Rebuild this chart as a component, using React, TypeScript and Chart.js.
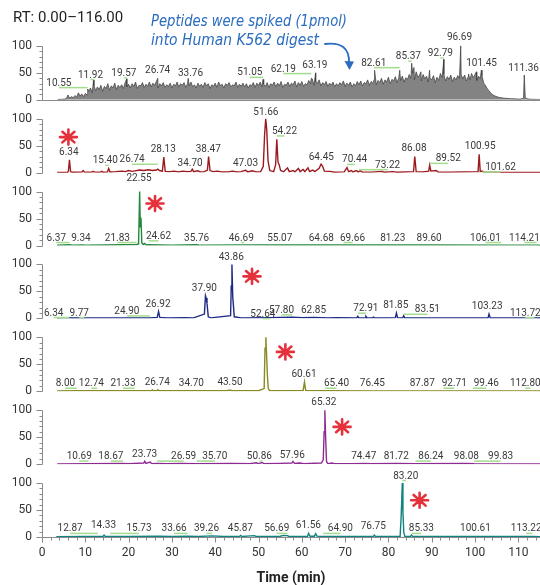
import React, { useEffect, useRef } from 'react';
import { Chart, registerables } from 'chart.js';

Chart.register(...registerables);

// ---------- axes / text ----------
const xTickValues = [0, 10, 20, 30, 40, 50, 60, 70, 80, 90, 100, 110];
const yTickValues = [0, 50, 100];
const timeMin = 0;
const timeMax = 115;
const panelMax = 135;
const rtTitle = 'RT: 0.00–116.00';
const noteLines = ['Peptides were spiked (1pmol)', 'into Human K562 digest'];
const xTitle = 'Time (min)';

// ---------- panel 1: TIC (base grid + labelled spikes) ----------
const ticStart = 3.6;
const ticStep = 0.4;
const ticValues = [
  0.5, 0.8, 1, 1.2, 1.5, 2,
  9, 3, 6, 4, 8, 5,
  13, 7, 11, 6, 12, 9,
  16, 22, 13, 26, 17, 24,
  19, 27, 16, 25, 21, 30,
  18, 26, 22, 31, 19, 27,
  23, 28, 21, 32, 24, 29,
  22, 30, 25, 33, 21, 27,
  26, 32, 23, 29, 25, 33,
  24, 31, 27, 34, 22, 30,
  26, 32, 23, 28, 25, 31,
  22, 29, 26, 33, 24, 30,
  27, 32, 23, 30, 26, 33,
  24, 28, 22, 31, 25, 29,
  23, 32, 26, 30, 21, 28,
  25, 31, 23, 33, 26, 29,
  22, 30, 27, 32, 24, 28,
  26, 33, 23, 29, 25, 31,
  24, 30, 22, 28, 26, 32,
  23, 31, 27, 33, 24, 29,
  25, 32, 23, 30, 27, 33,
  24, 31, 26, 34, 23, 29,
  27, 33, 25, 31, 28, 35,
  24, 32, 27, 34, 25, 30,
  28, 36, 30, 39, 27, 33,
  31, 37, 26, 32, 28, 34,
  25, 31, 27, 33, 24, 30,
  26, 32, 28, 35, 25, 31,
  27, 33, 24, 30, 26, 34,
  28, 35, 26, 32, 30, 37,
  27, 34, 31, 39, 28, 36,
  32, 40, 29, 37, 33, 42,
  30, 38, 35, 43, 32, 41,
  36, 44, 33, 41, 38, 47,
  40, 49, 37, 52, 42, 46,
  35, 47, 39, 44, 33, 41,
  37, 45, 32, 42, 36, 49,
  41, 47, 35, 43, 38, 46,
  34, 42, 37, 45, 40, 47,
  39, 46, 35, 43, 37, 49,
  41, 47, 36, 44, 39, 45,
  31, 27, 21, 17, 13, 10,
  8, 6.5, 5.5, 4.5, 4, 3.5,
  3, 3, 2.5, 2.5, 2, 2,
  2, 1.8, 1.5, 1.5, 2, 3,
  4, 2, 1.5, 1.2, 1, 1,
  1, 0.8, 0.8, 0.8,
];
const ticSpikes = [
  [10.55, 20], [11.92, 37], [19.57, 39], [26.74, 40], [33.76, 40], [51.05, 38],
  [62.19, 40], [63.19, 50], [76.8, 55], [82.61, 55], [85.37, 68], [85.9, 60],
  [87.5, 52], [89.5, 55], [92.79, 75], [96.69, 100], [98.5, 48], [100.3, 52],
  [101.45, 55], [111.36, 46],
];

// ---------- panels 2-7: extracted ion chromatograms [time, intensity] ----------
const redTrace = [
  [3.5, 0.5], [5.9, 0.6], [6.1, 3], [6.34, 24], [6.6, 2], [6.9, 0.8], [9.2, 1], [9.5, 4], [9.8, 1],
  [11.5, 1], [11.8, 2.5], [12.1, 1], [13.5, 1], [13.8, 2.5], [14.1, 1], [15.1, 1.5], [15.4, 8],
  [15.7, 1.5], [17, 2], [18.5, 3], [19.2, 2], [20, 4], [20.8, 2.5], [21.5, 3.5], [22.5, 5],
  [23.5, 4], [24.5, 5.5], [25.5, 4], [26.4, 5], [26.74, 6.5], [27.1, 4], [27.8, 3], [28.13, 29],
  [28.45, 2.5], [29.5, 2], [30.5, 3], [31.5, 1.5], [32.5, 3], [33.5, 2], [34.4, 2.5], [34.7, 6.5],
  [35, 2], [36, 3.5], [36.5, 1.5], [37.5, 2], [38.2, 5], [38.47, 30], [38.8, 4], [39.5, 2],
  [40.5, 3], [41.5, 1.5], [43, 1.5], [44, 3], [45, 1.5], [46, 2], [46.5, 3.5], [47.03, 4.6],
  [47.5, 1.5], [48.5, 3.5], [49.5, 1.5], [50.5, 2], [51.1, 12], [51.4, 70], [51.66, 100],
  [51.9, 80], [52.2, 22], [52.6, 4], [53.5, 2], [53.95, 15], [54.22, 62], [54.5, 20], [54.8, 14],
  [55.1, 4], [55.8, 2], [56.7, 9], [57.1, 2], [58, 4], [58.4, 1.5], [59.2, 8], [59.6, 2],
  [60.3, 6], [60.7, 2], [61.4, 9], [61.8, 2], [62.5, 5], [63, 2], [64, 8], [64.45, 16],
  [64.8, 12], [65.2, 3], [66.5, 2.5], [67.5, 1], [69.8, 1.5], [70.44, 9.6], [70.8, 2], [71.4, 4],
  [71.8, 1.5], [72.6, 4], [73, 1.5], [73.5, 3.5], [74, 1], [76, 1], [78.5, 2.5], [79, 1],
  [81, 2], [82, 1], [85.8, 2], [86.08, 30], [86.4, 2], [88, 1.5], [89.3, 3], [89.52, 14],
  [89.8, 3], [91, 4], [91.5, 1], [94, 1], [100.7, 2], [100.95, 34], [101.2, 2], [101.62, 3],
  [102.2, 1], [104, 1], [106, 0.5], [116, 0.5],
];
const greenTrace = [
  [3.5, 0.5], [6.37, 1.5], [7, 0.8], [9.34, 1.2], [10, 0.8], [15, 1], [21.83, 2], [22.3, 3],
  [22.55, 100], [22.7, 35], [22.85, 52], [23.05, 5], [23.4, 2], [23.7, 4], [24.1, 1], [24.62, 1.5],
  [30, 0.8], [35.76, 1.5], [36.3, 0.8], [46.69, 1.2], [55.07, 1], [64.68, 1], [69.66, 1],
  [81.23, 1], [89.6, 1], [106.01, 0.8], [114.21, 0.8], [116, 0.5],
];
const navyTrace = [
  [3.5, 0.5], [6.34, 1.5], [7, 0.8], [9.77, 1], [20, 1], [24.9, 1], [26.6, 2], [26.92, 13],
  [27.2, 2], [29, 1], [33, 1.5], [35, 1], [37.5, 8], [37.75, 42], [37.9, 38], [38.1, 28],
  [38.4, 3], [39, 1], [43.55, 5], [43.7, 60], [43.86, 100], [44.05, 40], [44.4, 3], [46, 1],
  [52.64, 1.5], [55, 2], [57.8, 2.5], [60, 1.5], [62.85, 2], [66, 1], [68, 1.5], [72.7, 1],
  [72.91, 4], [73.2, 1], [74.6, 1], [74.8, 4], [75.1, 1], [76.3, 1], [76.5, 2.5], [76.8, 1],
  [80, 1], [81.6, 1.5], [81.85, 10], [82.1, 1.5], [83.3, 1], [83.51, 5], [83.8, 1], [90, 1],
  [103, 1], [103.23, 8], [103.5, 1], [113.72, 1], [116, 0.5],
];
const oliveTrace = [
  [3.5, 0.5], [8, 1], [12.74, 1], [21.33, 1], [25.3, 1], [25.5, 2.5], [25.8, 1], [26.5, 1],
  [26.74, 2.5], [27.1, 1], [34.7, 1], [42.8, 1], [43.1, 2], [43.5, 2], [43.9, 1], [50, 1],
  [51.3, 5], [51.5, 80], [51.7, 100], [51.85, 70], [52.05, 30], [52.25, 5], [52.6, 1],
  [60.3, 1.5], [60.61, 17], [60.9, 1.5], [65.4, 1], [76.45, 0.8], [87.87, 0.8], [99.46, 0.8],
  [112.8, 0.8], [116, 0.5],
];
const purpleTrace = [
  [3.5, 0.5], [10.69, 1], [18.67, 1.5], [20, 1], [23.5, 2], [23.73, 5.5], [24, 1.5], [25, 4],
  [25.3, 1], [26.59, 1.5], [29, 1], [32, 1.5], [35.7, 1], [44, 1.5], [48, 1], [49.5, 2.5],
  [50, 1], [50.86, 3], [51.2, 1], [55, 1.5], [57.7, 2], [57.96, 5], [58.3, 1.5], [59.5, 2],
  [60.5, 1], [64.5, 2], [64.95, 8], [65.15, 60], [65.32, 100], [65.5, 50], [65.7, 5], [66, 1],
  [67, 2], [67.5, 1], [72, 1], [74.47, 1.5], [76, 1], [81.72, 1.5], [86.24, 1], [98.08, 1.5],
  [99.83, 1], [116, 0.5],
];
const tealTrace = [
  [3.3, 0.5], [10, 1], [12.87, 1], [14.1, 1], [14.33, 3.5], [14.6, 1], [15.73, 1], [20, 1],
  [27, 1.5], [30, 1], [33.66, 1.5], [36, 1], [39.26, 2], [42, 1], [45.6, 1], [45.87, 3],
  [46.2, 1], [49, 2.5], [49.5, 1], [55, 1.5], [55.8, 3], [56.69, 2.5], [57, 1], [58.5, 1],
  [61.3, 1], [61.56, 7], [61.9, 1.5], [62.9, 1.5], [63.2, 6], [63.5, 1.5], [64.9, 1], [70, 1],
  [76.5, 1], [76.75, 3.5], [77, 1], [82.7, 1.5], [82.95, 40], [83.2, 100], [83.35, 45],
  [83.55, 8], [83.8, 1], [85.1, 1.5], [85.33, 3.5], [85.6, 1], [90, 1], [100.61, 1],
  [113.22, 1], [116, 0.5],
];

// ---------- peak labels: [retention time, label centre time, label centre intensity] ----------
const ticLabels = [
  [10.55, 3.9, 31], [11.92, 11.2, 46], [19.57, 18.9, 49], [26.74, 26.7, 54], [33.76, 34.3, 49],
  [51.05, 48.0, 50], [62.19, 55.7, 57], [63.19, 63.0, 63], [82.61, 76.6, 68], [85.37, 84.6, 80],
  [92.79, 92.0, 86], [96.69, 96.4, 116], [101.45, 101.5, 68], [111.36, 111.2, 59],
];
const redLabels = [
  [6.34, 6.2, 37], [15.40, 14.6, 22], [26.74, 20.8, 24], [28.13, 28.0, 43.5], [34.70, 34.2, 18],
  [38.47, 38.4, 43.5], [47.03, 47.0, 18], [51.66, 51.7, 111.5], [54.22, 56.0, 76.5],
  [64.45, 64.5, 28.7], [70.44, 72.2, 23.7], [73.22, 79.8, 14], [86.08, 85.9, 44.6],
  [89.52, 93.8, 25.6], [100.95, 101.2, 47.8], [101.62, 105.9, 9.6],
];
const greenLabels = [
  [22.55, 22.4, 124], [6.37, 3.3, 14], [9.34, 9.0, 14], [21.83, 17.4, 14], [24.62, 26.9, 17],
  [35.76, 35.7, 14], [46.69, 46.0, 14], [55.07, 54.9, 14], [64.68, 64.5, 14], [69.66, 71.7, 14],
  [81.23, 81.0, 14], [89.60, 89.4, 14], [106.01, 102.4, 14], [114.21, 111.4, 14],
];
const navyLabels = [
  [43.86, 43.7, 112], [37.90, 37.5, 56], [26.92, 26.8, 26], [6.34, 2.7, 10], [9.77, 8.6, 10],
  [24.90, 19.6, 13], [52.64, 51.0, 8], [57.80, 55.3, 15], [62.85, 62.7, 15], [72.91, 74.8, 18],
  [81.85, 81.7, 24], [83.51, 89.0, 16], [103.23, 102.8, 21.7], [113.72, 111.6, 10],
];
const oliveLabels = [
  [60.61, 60.5, 32], [8.00, 5.4, 14], [12.74, 11.4, 14], [21.33, 18.7, 14], [26.74, 26.6, 16],
  [34.70, 34.5, 14], [43.50, 43.4, 16], [65.40, 68.0, 14], [76.45, 76.3, 14], [87.87, 87.8, 14],
  [92.71, 95.2, 14], [99.46, 102.6, 14], [112.80, 111.6, 14],
];
const purpleLabels = [
  [65.32, 65.1, 115], [10.69, 8.6, 14], [18.67, 15.9, 14], [23.73, 23.7, 17], [26.59, 32.7, 14],
  [35.70, 39.9, 14], [50.86, 50.2, 14], [57.96, 57.8, 16], [74.47, 74.3, 14], [81.72, 81.8, 14],
  [86.24, 89.8, 14], [98.08, 98.0, 14], [99.83, 105.9, 14],
];
const tealLabels = [
  [83.20, 84.0, 113], [12.87, 6.5, 15], [14.33, 14.2, 21], [15.73, 22.4, 15], [33.66, 30.5, 15],
  [39.26, 38.0, 15], [45.87, 45.8, 15], [56.69, 54.2, 15], [61.56, 61.5, 21], [64.90, 68.9, 15],
  [76.75, 76.5, 19], [85.33, 87.6, 15], [100.61, 100.1, 15], [113.22, 111.8, 15],
];

// spiked-peptide markers: [panel, time, intensity]
const starMarks = [
  [1, 6.1, 66], [2, 26.1, 78], [3, 48.5, 78], [4, 56.2, 73], [5, 69.3, 69], [6, 87.2, 68],
];

const panelColors = ['#3a3a3a', '#9c1a1e', '#24893f', '#1c2a83', '#8a8a22', '#8d2b92', '#12827e'];

function ticPoints() {
  const grid = ticValues.map((v, i) => [ticStart + i * ticStep, v]);
  return grid.concat(ticSpikes).sort((a, b) => a[0] - b[0]);
}

const traces = [ticPoints(), redTrace, greenTrace, navyTrace, oliveTrace, purpleTrace, tealTrace];
const labelSets = [ticLabels, redLabels, greenLabels, navyLabels, oliveLabels, purpleLabels, tealLabels];

const decorPlugin = {
  id: 'decor',
  afterDraw(chart: any) {
    const ctx = chart.ctx as CanvasRenderingContext2D;
    const xs = chart.scales.x;
    const ax = Math.round(xs.left) + 0.5;
    ctx.save();

    // y axes with minor ticks
    ctx.strokeStyle = '#8a8a8a';
    ctx.lineWidth = 1;
    for (let p = 0; p < 7; p++) {
      const ys = chart.scales['y' + p];
      ctx.beginPath();
      ctx.moveTo(ax, Math.round(ys.getPixelForValue(100)) + 0.5);
      ctx.lineTo(ax, Math.round(ys.getPixelForValue(0)) + 0.5);
      for (let v = 0; v <= 100; v += 10) {
        const len = v % 50 === 0 ? 6 : 3;
        const yy = Math.round(ys.getPixelForValue(v)) + 0.5;
        ctx.moveTo(ax - len, yy);
        ctx.lineTo(ax, yy);
      }
      ctx.stroke();
    }
    // TIC baseline
    const y0 = chart.scales.y0;
    ctx.beginPath();
    const b0 = Math.round(y0.getPixelForValue(0)) + 0.5;
    ctx.moveTo(ax, b0);
    ctx.lineTo(xs.right, b0);
    ctx.stroke();
    // x axis
    const yb = Math.round(chart.chartArea.bottom) + 0.5;
    ctx.beginPath();
    ctx.moveTo(ax, yb);
    ctx.lineTo(xs.right, yb);
    for (let t = 0; t <= timeMax; t += 2) {
      const xx = Math.round(xs.getPixelForValue(t)) + 0.5;
      const len = t % 10 === 0 ? 5 : 3;
      ctx.moveTo(xx, yb);
      ctx.lineTo(xx, yb + len);
    }
    ctx.stroke();

    // peak labels with green leader lines
    ctx.font = '10px Roboto';
    ctx.textAlign = 'center';
    ctx.textBaseline = 'middle';
    for (let p = 0; p < 7; p++) {
      const ys = chart.scales['y' + p];
      for (const [rt, lt, li] of labelSets[p]) {
        const lx = xs.getPixelForValue(lt);
        const ly = ys.getPixelForValue(li);
        const px = xs.getPixelForValue(rt);
        if (Math.abs(px - lx) > 2.5) {
          ctx.strokeStyle = '#a3dc8f';
          ctx.lineWidth = 1.5;
          ctx.beginPath();
          ctx.moveTo(lx, ly + 4.5);
          ctx.lineTo(px, ly + 4.5);
          ctx.stroke();
        }
        ctx.fillStyle = '#3a3a3a';
        ctx.fillText(rt.toFixed(2), lx, ly);
      }
    }

    // asterisks
    ctx.strokeStyle = '#e5313c';
    ctx.lineWidth = 2.6;
    ctx.lineCap = 'round';
    for (const [p, t, v] of starMarks) {
      const ys = chart.scales['y' + p];
      const cx = xs.getPixelForValue(t);
      const cy = ys.getPixelForValue(v);
      ctx.beginPath();
      for (let k = 0; k < 4; k++) {
        const a = (k * Math.PI) / 4;
        const rx = 8.5 * Math.cos(a);
        const ry = 7.5 * Math.sin(a);
        ctx.moveTo(cx - rx, cy - ry);
        ctx.lineTo(cx + rx, cy + ry);
      }
      ctx.stroke();
    }

    // RT range text
    ctx.fillStyle = '#222';
    ctx.font = '15px Roboto';
    ctx.textAlign = 'left';
    ctx.textBaseline = 'alphabetic';
    ctx.fillText(rtTitle, 13, 22);

    // handwritten note
    ctx.fillStyle = '#2a6cbf';
    ctx.font = 'italic 15px "DejaVu Sans"';
    const fit = (text: string, x0: number, x1: number, y: number) => {
      const w = ctx.measureText(text).width;
      ctx.save();
      ctx.translate(x0, y);
      ctx.scale((x1 - x0) / w, 1);
      ctx.fillText(text, 0, 0);
      ctx.restore();
    };
    fit(noteLines[0], 151, 347, 26);
    fit(noteLines[1], 151, 319, 45);
    // arrow
    ctx.strokeStyle = '#2a6cbf';
    ctx.lineWidth = 1.8;
    ctx.beginPath();
    ctx.moveTo(325, 44);
    ctx.quadraticCurveTo(350, 41, 349, 63);
    ctx.stroke();
    ctx.fillStyle = '#2a6cbf';
    ctx.beginPath();
    ctx.moveTo(349.5, 70);
    ctx.lineTo(344.5, 61);
    ctx.lineTo(354, 61.5);
    ctx.closePath();
    ctx.fill();

    ctx.restore();
  },
};

export default function App() {
  const ref = useRef<HTMLCanvasElement>(null);
  useEffect(() => {
    const canvas = ref.current;
    if (!canvas) return;
    const datasets = traces.map((pts, i) => ({
      data: pts.map(([x, y]) => ({ x, y })),
      yAxisID: 'y' + i,
      borderColor: panelColors[i],
      borderWidth: i === 0 ? 0.7 : 1.4,
      pointRadius: 0,
      tension: 0,
      fill: i === 0 ? 'origin' : false,
      backgroundColor: i === 0 ? 'rgba(118,118,118,0.9)' : 'transparent',
    }));
    const scales: any = {
      x: {
        type: 'linear',
        position: 'bottom',
        min: timeMin,
        max: timeMax,
        afterBuildTicks: (s: any) => { s.ticks = xTickValues.map((v) => ({ value: v })); },
        afterFit: (s: any) => { s.height = 48; },
        grid: { display: false, drawTicks: false },
        border: { display: false },
        ticks: { padding: 9, color: '#333', font: { family: 'Roboto', size: 12 }, maxRotation: 0 },
        title: {
          display: true,
          text: xTitle,
          color: '#222',
          font: { family: 'Roboto', size: 14, weight: 'bold', lineHeight: 1 },
          padding: { top: 0, bottom: 0 },
        },
      },
    };
    for (let i = 0; i < 7; i++) {
      scales['y' + i] = {
        type: 'linear',
        position: 'left',
        stack: 'panels',
        stackWeight: 1,
        weight: 7 - i,
        min: 0,
        max: panelMax,
        afterBuildTicks: (s: any) => { s.ticks = yTickValues.map((v) => ({ value: v })); },
        afterFit: (s: any) => { s.width = 42; },
        grid: { display: false, drawTicks: false },
        border: { display: false },
        ticks: { padding: 10, color: '#333', font: { family: 'Roboto', size: 12 } },
      };
    }
    const chart = new Chart(canvas, {
      type: 'line',
      data: { datasets },
      options: {
        animation: false,
        responsive: true,
        maintainAspectRatio: false,
        layout: { padding: { top: 27, left: 0, right: 0, bottom: 0 } },
        plugins: { legend: { display: false }, tooltip: { enabled: false } },
        scales,
      },
      plugins: [decorPlugin],
    } as any);
    return () => chart.destroy();
  }, []);
  return (
    <div style={{ position: 'absolute', left: 0, top: 0, width: 540, height: 585, background: '#fff' }}>
      <canvas ref={ref} />
    </div>
  );
}
